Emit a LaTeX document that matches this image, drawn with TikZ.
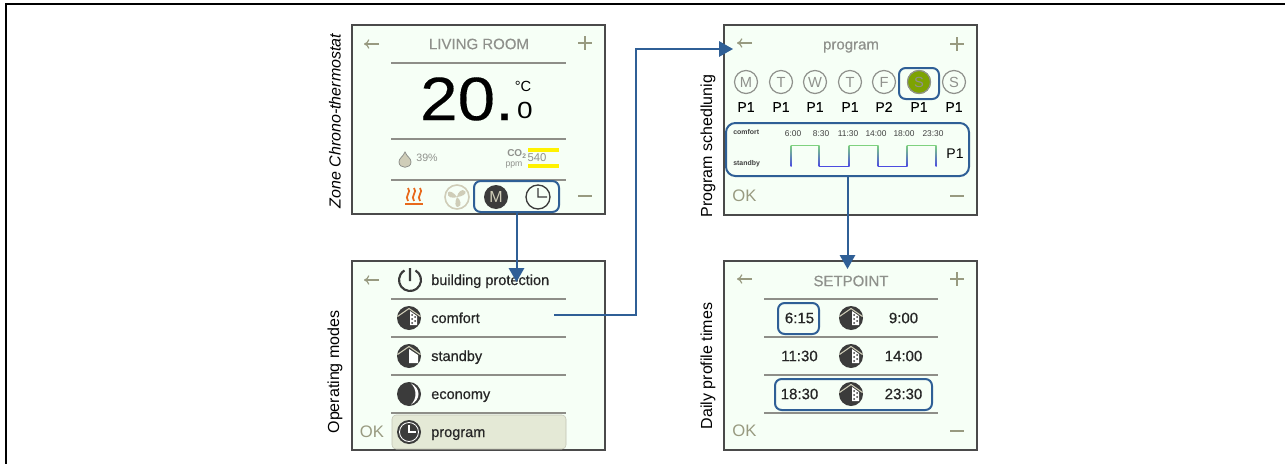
\documentclass[tikz,border=0pt]{standalone}
\usepackage{fontspec}
\setmainfont{Liberation Sans}
\newfontface\semibold[FakeBold=0.5]{Liberation Sans}
\newfontface\halfbold[FakeBold=0.2]{Liberation Sans}
\usetikzlibrary{arrows.meta}
\usepackage{xcolor}

\def\px{0.75pt}
\definecolor{screenbg}{HTML}{F6FFF6}
\definecolor{framegray}{HTML}{4A4A4A}
\definecolor{rulegray}{HTML}{8E8E88}
\definecolor{softgray}{HTML}{8F918C}
\definecolor{olivegray}{HTML}{989A80}
\definecolor{linkblue}{HTML}{2F5F96}
\definecolor{icondark}{HTML}{3B3B3B}
\definecolor{iconpale}{HTML}{CFCDB8}
\definecolor{heatorange}{HTML}{E8691C}
\definecolor{leafgreen}{HTML}{7DA302}
\definecolor{rowfill}{HTML}{E4E9D6}
\definecolor{wavegreen}{HTML}{7FD27F}
\definecolor{waveblue}{HTML}{4C4CE0}

\tikzset{
    screen/.style={draw=framegray, fill=screenbg, line width=0.8pt},
    rowline/.style={draw=rulegray, line width=1pt},
    navline/.style={draw=olivegray, line width=1.2pt},
    backarrow/.style={draw=olivegray, line width=0.9pt, -{To[length=4pt,width=7pt]}},
    title/.style={text=softgray, font=\halfbold\fontsize{11.25}{12}\selectfont, inner sep=0pt},
    oktext/.style={text=olivegray, font=\fontsize{12.5}{13}\selectfont, inner sep=0pt},
    sidetext/.style={rotate=90, font=\fontsize{12}{13}\selectfont, inner sep=0pt},
    rowtext/.style={anchor=base west, text=black!85, font=\semibold\fontsize{10.9}{12}\selectfont, inner sep=0pt},
    timetext/.style={text=black!85, font=\semibold\fontsize{11.25}{12}\selectfont, inner sep=0pt},
    smalltext/.style={inner sep=0pt, text=black!75, font=\fontsize{6.3}{7}\selectfont},
    hilite/.style={draw=linkblue, line width=1.5pt, rounded corners=5pt, inner sep=0pt},
    link/.style={draw=linkblue, line width=1.5pt, -{Triangle[length=10.5pt,width=11.5pt]}},
    daycircle/.style={circle, draw=softgray, line width=0.9pt, minimum size=23*\px, inner sep=0pt,
        text=softgray, font=\fontsize{11}{12}\selectfont},
    planlabel/.style={inner sep=0pt, text=black, font=\halfbold\fontsize{10.5}{12}\selectfont},
    pics/roofbase/.style={code={
        \fill[icondark] (0,0) circle (12);
        \draw[iconpale, line width=0.8pt] (-11.5,-1.5) -- (0,-9.5) -- (11.5,-1.5);
    }},
    pics/comfort/.style={code={
        \pic {roofbase};
        \fill[white] (1,-7) -- (8,-2) -- (8,7) -- (1,7) -- cycle;
        \foreach \dx/\dy in {3/-3, 6/-1, 3/1, 6/3, 3/5} {
            \fill[icondark] (\dx,\dy) circle (1);
        }
    }},
    pics/standby/.style={code={
        \pic {roofbase};
        \fill[white] (0,-7) -- (9,-1) -- (9,7) -- (0,7) -- cycle;
    }},
    pics/economy/.style={code={
        \fill[icondark] (0,0) circle (12);
        \fill[white] (2,-10.5) .. controls (12,-6) and (12,6) .. (2,10.5)
            .. controls (8,5) and (8,-5) .. (2,-10.5) -- cycle;
    }},
    pics/clockdark/.style={code={
        \fill[icondark] (0,0) circle (12);
        \draw[white, line width=0.6pt] (0,0) circle (9.5);
        \draw[white, line width=1.2pt] (0,-7) -- (0,0) -- (7,0);
    }},
}

\begin{document}
\begin{tikzpicture}[x=\px, y=-\px]
    \useasboundingbox (0,0) rectangle (1285,464);
    % Outer edge
    \draw[black, line width=1.5pt] (6,464) -- (6,4) -- (1285,4);

    % Screens
    \draw[screen] (352,25) rectangle (605,214);
    \draw[screen] (352,261) rectangle (605,450);
    \draw[screen] (724,25) rectangle (977,215);
    \draw[screen] (724,261) rectangle (977,450);

    % Side labels
    \node[sidetext, font=\itshape\fontsize{12}{13}\selectfont] (zonelabel) at (335,121) {Zone Chrono-thermostat};
    \node[sidetext] (modeslabel) at (335,372) {Operating modes};
    \node[sidetext] (schedlabel) at (708,146) {Program schedlunig};
    \node[sidetext] (dailylabel) at (708,366) {Daily profile times};

    % Back arrows, plus and minus
    \foreach \xa/\ya in {379/44, 379/280, 752/43, 752/279} {
        \draw[backarrow] (\xa,\ya) -- ++(-15,0);
    }
    \foreach \xa/\ya in {578/43, 950/44, 950/279} {
        \draw[navline] (\xa,\ya) -- ++(14,0) (\xa+7,\ya-7) -- ++(0,14);
    }
    \foreach \xa/\ya in {578/196, 950/196, 950/431} {
        \draw[navline] (\xa,\ya) -- ++(14,0);
    }

    % Living room
    \node[title] (roomtitle) at (479,44) {LIVING ROOM};
    \foreach \ya in {63,139,180} {
        \draw[rowline] (391,\ya) -- (566,\ya);
    }
    \node[inner sep=0pt, xscale=1.1, font=\halfbold\fontsize{46}{48}\selectfont] (bigtemp) at (467,99) {20.};
    \node[inner sep=0pt, xscale=1.2, font=\fontsize{17.5}{18}\selectfont] (smalltemp) at (525,110.5) {0};
    \node[inner sep=0pt, font=\fontsize{11}{12}\selectfont] (tempunit) at (523,86) {°C};
    \draw[draw=softgray, fill=iconpale, line width=0.6pt] (405,152)
        .. controls (407,157) and (411,158) .. (411,162)
        .. controls (411,169) and (399,169) .. (399,162)
        .. controls (399,158) and (403,157) .. (405,152) -- cycle;
    \node[inner sep=0pt, text=softgray, font=\fontsize{8}{9}\selectfont] (humidity) at (427,158) {39\%};
    \node[inner sep=0pt, anchor=west, text=softgray, font=\bfseries\fontsize{7.5}{8}\selectfont] (cotext) at (507,154) {CO\raisebox{-1.5pt}{\fontsize{5}{5}\selectfont 2}};
    \node[inner sep=0pt, text=softgray, font=\fontsize{6.5}{7}\selectfont] (ppmtext) at (514,165) {ppm};
    \node[inner sep=0pt, text=softgray, font=\fontsize{8.5}{10}\selectfont] (cotvalue) at (537,157.5) {540};
    \fill[yellow] (528,148) rectangle (559,152);
    \fill[yellow] (528,164) rectangle (559,168);
    \foreach \xa in {408,414,420} {
        \draw[heatorange, line width=1.3pt] (\xa,188) .. controls (\xa+4,192) and (\xa-4,196) .. (\xa,201);
    }
    \draw[heatorange, line width=1.4pt] (405,204) -- (423,204);
    \draw[iconpale, line width=1.2pt] (457,197) circle (12);
    \foreach \angle in {-80,40,160} {
        \fill[iconpale, shift={(457,197)}, rotate=\angle] (0,0) .. controls (3,-3) and (10,-4) .. (10,1)
            .. controls (10,4) and (4,3) .. (0,0) -- cycle;
    }
    \node[circle, fill=icondark, minimum size=24*\px, inner sep=0pt, text=iconpale,
        font=\fontsize{12}{13}\selectfont] (manualicon) at (496,197) {M};
    \draw[icondark, line width=1pt] (538,197) circle (12) (538,188) -- (538,197) -- (547,197);
    \node[hilite, minimum width=85*\px, minimum height=31*\px] (modebox) at (516.5,196.5) {};

    % Operating modes
    \draw[icondark, line width=1.6pt] (410,280) ++(-60:11) arc (-60:240:11) (410,268) -- (410,281);
    \foreach \ya in {299,337,375,413} {
        \draw[rowline] (391,\ya) -- (566,\ya);
    }
    \node[draw=olivegray!60, fill=rowfill, rounded corners=3pt, minimum width=174*\px, minimum height=34*\px,
        inner sep=0pt] (programrow) at (479,432) {};
    \foreach \ya/\name/\label in {280/protect/building protection, 318/comfort/comfort, 356/standby/standby, 394/economy/economy, 432/program/program} {
        \node[rowtext] (\name row) at (431,\ya+5) {\label};
    }
    \pic at (409,318) {comfort};
    \pic at (409,356) {standby};
    \pic at (409,394) {economy};
    \pic at (409,432) {clockdark};
    \node[oktext] (okmodes) at (372,432) {OK};
    \coordinate (modetip) at (516.5,282);
    \draw[link] (modebox) -- (modetip);

    % Program
    \node[title, font=\semibold\fontsize{11.25}{12}\selectfont] (programtitle) at (851,47) {program};
    \node[circle, fill=leafgreen, minimum size=24*\px, inner sep=0pt] (greenday) at (919,82) {};
    \foreach \xa/\day/\plan [count=\i] in {746/M/P1, 781/T/P1, 815/W/P1, 850/T/P1, 884/F/P2, 919/S/P1, 954/S/P1} {
        \node[daycircle] (day\i) at (\xa,82) {\day};
        \node[planlabel] (plan\i) at (\xa,107) {\plan};
    }
    \node[hilite, minimum width=40*\px, minimum height=31*\px] (daybox) at (919,83.5) {};
    \node[hilite, rounded corners=7pt, minimum width=243*\px, minimum height=53*\px] (weekbox) at (847.5,149.5) {};
    \node[smalltext, anchor=west, font=\bfseries\fontsize{5.2}{6}\selectfont] (comforttext) at (733,132) {comfort};
    \node[smalltext, anchor=west, font=\bfseries\fontsize{5.2}{6}\selectfont] (standbytext) at (733,164) {standby};
    \foreach \xa/\label [count=\i] in {793/6:00, 821/8:30, 848/11:30, 876/14:00, 904/18:00, 933/23:30} {
        \node[smalltext] (hour\i) at (\xa,134) {\label};
    }
    \foreach \xa/\xb in {791/819, 849/878, 907/936} {
        \draw[wavegreen, line width=0.7pt] (\xa,145) -- (\xb,145);
    }
    \foreach \xa/\xb in {819/849, 878/907} {
        \draw[waveblue, line width=0.7pt] (\xa,166) -- (\xb,166);
    }
    \foreach \xa in {791,819,849,878,907,936} {
        \shade[top color=wavegreen, bottom color=waveblue] (\xa-0.5,145) rectangle (\xa+0.5,166);
    }
    \node[inner sep=0pt, font=\fontsize{10.5}{12}\selectfont] (plantext) at (955,154) {P1};
    \node[oktext] (okprogram) at (744.5,196) {OK};
    \coordinate (setpointtip) at (847.5,269);
    \draw[link] (weekbox) -- (setpointtip);

    % Setpoint
    \node[title] (setpointtitle) at (851,281) {SETPOINT};
    \foreach \ya in {299,337,375,413} {
        \draw[rowline] (764,\ya) -- (938,\ya);
    }
    \foreach \ya/\ta/\tb [count=\i] in {318/6:15/9:00, 356/11:30/14:00, 394/18:30/23:30} {
        \node[timetext] (start\i) at (799.5,\ya) {\ta};
        \node[timetext] (end\i) at (903.5,\ya) {\tb};
        \pic at (851,\ya) {comfort};
    }
    \node[hilite, minimum width=41*\px, minimum height=31*\px] (startbox) at (798.5,318.5) {};
    \node[hilite, minimum width=157*\px, minimum height=31*\px] (rangebox) at (853.5,394.5) {};
    \node[oktext] (oksetpoint) at (744.5,431) {OK};

    % Link from comfort row to program
    \coordinate (comfortstart) at (554,315);
    \coordinate (linkbend) at (636,315);
    \coordinate (linktop) at (636,49);
    \coordinate (programtip) at (733,49);
    \draw[link] (comfortstart) -- (linkbend) -- (linktop) -- (programtip);
\end{tikzpicture}
\end{document}
